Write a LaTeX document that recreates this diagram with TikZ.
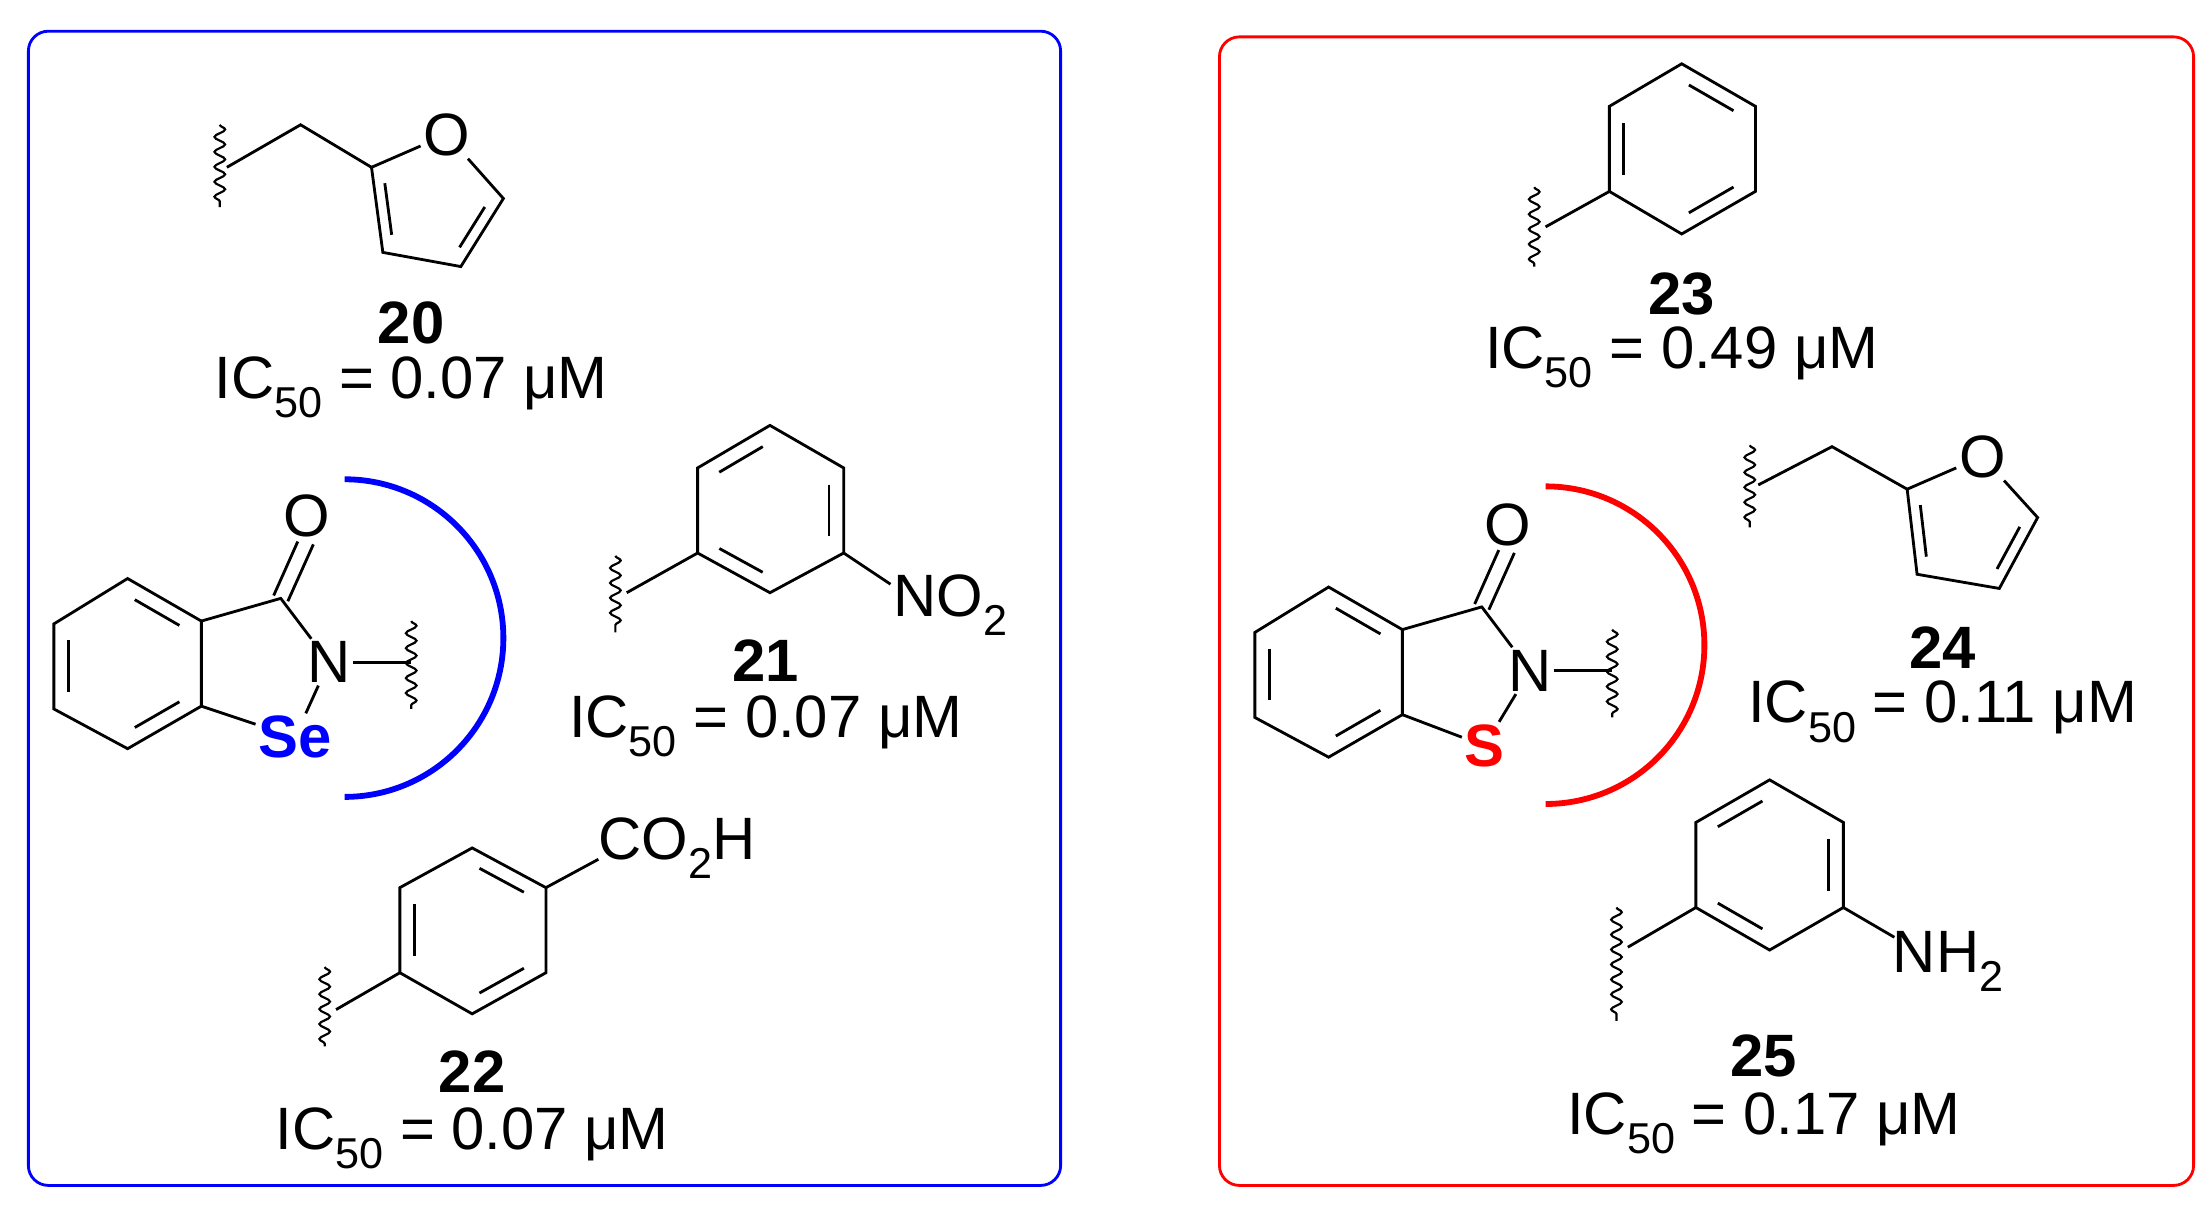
\documentclass[tikz,border=0pt]{standalone}
\usepackage{fontspec}
\setmainfont{Liberation Sans}
\usetikzlibrary{calc,decorations.pathmorphing}
\newcommand{\lsub}[1]{\raisebox{-0.32em}{\fontsize{26}{26}\selectfont #1}}
\tikzset{
  bd/.style={line width=1.7pt},
  wav/.style={line width=1.3pt,decorate,decoration={snake,segment length=9,amplitude=3.2}},
  atom/.style={inner sep=1.5pt,font=\fontsize{36}{40}\selectfont},
  lab/.style={font=\fontsize{36}{40}\selectfont\bfseries,inner sep=1pt},
  ic/.style={font=\fontsize{36}{40}\selectfont,inner sep=1pt},
  frame/.style={line width=1.7pt,rounded corners=12}
}
\newcommand{\inner}[3]{\draw[bd,shorten <=5,shorten >=5] ($(#1)!0.8!(#2)$) -- ($(#1)!0.8!(#3)$);}
\begin{document}
\begin{tikzpicture}[x=0.3mm,y=-0.3mm]
\useasboundingbox (0,0) rectangle (1560,852);
\draw[frame,blue] (20,22) rectangle (748,836);
\draw[frame,red] (860,26) rectangle (1547,836);

% ---------- left core (Se) ----------
\foreach \n/\x/\y in {a1/38/440,a2/38/500,a3/90/528,a4/142/498,a5/142/438,a6/90/408,ac/198/422}
  \coordinate (\n) at (\x,\y);
\coordinate (actr) at (90,468);
\node[atom] (aO) at (216,364) {O};
\node[atom] (aN) at (232,467) {N};
\node[atom,text=blue,font=\fontsize{36}{40}\selectfont\bfseries] (aSe) at (208,520) {Se};
\draw[bd] (a1)--(a2)--(a3)--(a4)--(a5)--(a6)--cycle;
\inner{actr}{a1}{a2} \inner{actr}{a6}{a5} \inner{actr}{a4}{a3}
\draw[bd] (a5)--(ac)--(aN)--(aSe)--(a4);
\draw[bd] ($(ac)+(-5,-2)$) -- ($(aO.south)+(-6,1)$);
\draw[bd] ($(ac)+(5,2)$) -- ($(aO.south)+(5,3)$);
\coordinate (aw) at (290,467);
\draw[bd] (aN) -- (aw);
\draw[wav] (290,438) -- (290,500);
\draw[blue,line width=3.5pt] (243,338) arc[start angle=-90,end angle=90,radius=112];

% ---------- 20 ----------
\coordinate (b0) at (212,88); \coordinate (b2) at (262,118);
\node[atom] (bO) at (315,95) {O};
\coordinate (b5) at (355,140); \coordinate (b4) at (325,188); \coordinate (b3) at (270,178);
\coordinate (bctr) at (305,145);
\draw[bd] (160,118) -- (b0) -- (b2);
\draw[bd] (b2) -- (bO) -- (b5) -- (b4) -- (b3) -- (b2);
\inner{bctr}{b2}{b3} \inner{bctr}{b4}{b5}
\draw[wav] (155,88) -- (155,146);
\node[lab] (l20) at (290,228) {20};
\node[ic] (i20) at (290,273) {IC\lsub{50} = 0.07 μM};

% ---------- 21 ----------
\foreach \n/\x/\y in {c1/543/300,c2/595/330,c3/595/390,c4/543/418,c5/492/390,c6/492/330}
  \coordinate (\n) at (\x,\y);
\coordinate (cctr) at (543,360);
\draw[bd] (c1)--(c2)--(c3)--(c4)--(c5)--(c6)--cycle;
\inner{cctr}{c1}{c6} \inner{cctr}{c2}{c3} \inner{cctr}{c4}{c5}
\node[atom,anchor=west] (cN) at (628,427) {NO\lsub{2}};
\draw[bd] (c3) -- (cN.west|-0,412);
\draw[bd] (c5) -- (442,418);
\draw[wav] (434,392) -- (434,446);
\node[lab] (l21) at (540,466) {21};
\node[ic] (i21) at (540,512) {IC\lsub{50} = 0.07 μM};

% ---------- 22 ----------
\foreach \n/\x/\y in {d1/333/598,d2/385/626,d3/385/686,d4/333/715,d5/282/686,d6/282/626}
  \coordinate (\n) at (\x,\y);
\coordinate (dctr) at (333,656);
\draw[bd] (d1)--(d2)--(d3)--(d4)--(d5)--(d6)--cycle;
\inner{dctr}{d1}{d2} \inner{dctr}{d3}{d4} \inner{dctr}{d5}{d6}
\node[atom,anchor=west] (dC) at (420,598) {CO\lsub{2}H};
\draw[bd] (d2) -- (422,606);
\draw[bd] (d5) -- (237,712);
\draw[wav] (229,682) -- (229,738);
\node[lab] (l22) at (333,756) {22};
\node[ic] (i22) at (333,803) {IC\lsub{50} = 0.07 μM};

% ---------- right core (S) ----------
\begin{scope}[shift={(847,6)}]
\foreach \n/\x/\y in {e1/38/440,e2/38/500,e3/90/528,e4/142/498,e5/142/438,e6/90/408,ec/198/422}
  \coordinate (\n) at (\x,\y);
\coordinate (ectr) at (90,468);
\node[atom] (eO) at (216,364) {O};
\node[atom] (eN) at (232,467) {N};
\node[atom,text=red,font=\fontsize{36}{40}\selectfont\bfseries] (eS) at (200,520) {S};
\draw[bd] (e1)--(e2)--(e3)--(e4)--(e5)--(e6)--cycle;
\inner{ectr}{e1}{e2} \inner{ectr}{e6}{e5} \inner{ectr}{e4}{e3}
\draw[bd] (e5)--(ec)--(eN)--(eS)--(e4);
\draw[bd] ($(ec)+(-5,-2)$) -- ($(eO.south)+(-6,1)$);
\draw[bd] ($(ec)+(5,2)$) -- ($(eO.south)+(5,3)$);
\coordinate (ew) at (290,467);
\draw[bd] (eN) -- (ew);
\draw[wav] (290,438) -- (290,500);
\draw[red,line width=3.5pt] (243,337) arc[start angle=-90,end angle=90,radius=112];
\end{scope}

% ---------- 23 ----------
\foreach \n/\x/\y in {f1/1186/45,f2/1238/75,f3/1238/135,f4/1186/165,f5/1135/135,f6/1135/75}
  \coordinate (\n) at (\x,\y);
\coordinate (fctr) at (1186,105);
\draw[bd] (f1)--(f2)--(f3)--(f4)--(f5)--(f6)--cycle;
\inner{fctr}{f1}{f2} \inner{fctr}{f3}{f4} \inner{fctr}{f5}{f6}
\draw[bd] (f5) -- (1090,160);
\draw[wav] (1082,132) -- (1082,188);
\node[lab] (l23) at (1186,207) {23};
\node[ic] (i23) at (1186,252) {IC\lsub{50} = 0.49 μM};

% ---------- 24 ----------
\coordinate (g0) at (1292,315); \coordinate (g2) at (1345,345);
\node[atom] (gO) at (1398,322) {O};
\coordinate (g5) at (1437,365); \coordinate (g4) at (1410,415); \coordinate (g3) at (1352,405);
\coordinate (gctr) at (1388,372);
\draw[bd] (1240,342) -- (g0) -- (g2);
\draw[bd] (g2) -- (gO) -- (g5) -- (g4) -- (g3) -- (g2);
\inner{gctr}{g2}{g3} \inner{gctr}{g4}{g5}
\draw[wav] (1234,314) -- (1234,372);
\node[lab] (l24) at (1370,457) {24};
\node[ic] (i24) at (1370,502) {IC\lsub{50} = 0.11 μM};

% ---------- 25 ----------
\foreach \n/\x/\y in {h1/1248/550,h2/1300/580,h3/1300/640,h4/1248/670,h5/1196/640,h6/1196/580}
  \coordinate (\n) at (\x,\y);
\coordinate (hctr) at (1248,610);
\draw[bd] (h1)--(h2)--(h3)--(h4)--(h5)--(h6)--cycle;
\inner{hctr}{h1}{h6} \inner{hctr}{h2}{h3} \inner{hctr}{h4}{h5}
\node[atom,anchor=west] (hN) at (1333,678) {NH\lsub{2}};
\draw[bd] (h3) -- (1336,661);
\draw[bd] (h5) -- (1148,668);
\draw[wav] (1140,640) -- (1140,720);
\node[lab] (l25) at (1244,745) {25};
\node[ic] (i25) at (1244,792) {IC\lsub{50} = 0.17 μM};
\end{tikzpicture}
\end{document}
